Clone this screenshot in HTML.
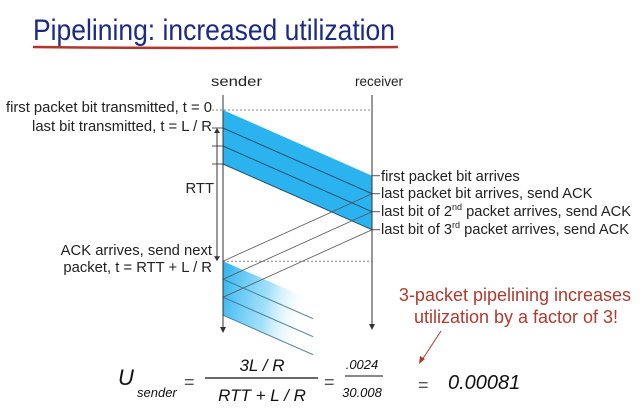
<!DOCTYPE html>
<html><head><meta charset="utf-8"><style>
html,body{margin:0;padding:0;background:#fff;}
svg{display:block;font-family:"Liberation Sans",sans-serif;}
</style></head><body>
<svg id="c" width="643" height="415" viewBox="0 0 643 415">
<defs>
<linearGradient id="fade" x1="0" x2="1" y1="0" y2="0.2">
<stop offset="0" stop-color="#2bb3f0"/><stop offset="0.55" stop-color="#7dd3f7" stop-opacity="0.7"/><stop offset="1" stop-color="#fff" stop-opacity="0"/>
</linearGradient>
</defs>
<text x="33" y="40" font-size="30" fill="#1b2a86" textLength="362" lengthAdjust="spacingAndGlyphs">Pipelining: increased utilization</text>
<path d="M33 47 Q200 49 398 47" stroke="#b8342a" stroke-width="2.5" fill="none"/>
<text x="211" y="86" font-size="14" textLength="51" lengthAdjust="spacingAndGlyphs" fill="#222">sender</text>
<text x="355" y="86" font-size="14" textLength="48" lengthAdjust="spacingAndGlyphs" fill="#222">receiver</text>
<g id="marks"></g>
<g font-size="14.8" fill="#222" text-anchor="end">
<text x="212" y="112">first packet bit transmitted, t = 0</text>
<text x="212" y="131">last bit transmitted, t = L / R</text>
<text x="214" y="193">RTT</text>
<text x="212" y="255">ACK arrives, send next</text>
<text x="212" y="272">packet, t = RTT + L / R</text>
</g>
<g font-size="14.7" fill="#222">
<text x="381" y="181">first packet bit arrives</text>
<text x="381" y="198">last packet bit arrives, send ACK</text>
<text x="381" y="216">last bit of 2<tspan font-size="9" dy="-6">nd</tspan><tspan dy="6"> packet arrives, send ACK</tspan></text>
<text x="381" y="234">last bit of 3<tspan font-size="9" dy="-6">rd</tspan><tspan dy="6"> packet arrives, send ACK</tspan></text>
</g>
<g font-size="18" fill="#b03a2e" text-anchor="middle">
<text x="515" y="301">3-packet pipelining increases</text>
<text x="516" y="323">utilization by a factor of 3!</text>
</g>
<line x1="441" y1="331" x2="422" y2="360" stroke="#b03a2e" stroke-width="1"/>
<path d="M419 364 L420 356 L425 359 Z" fill="#b03a2e"/>
<g fill="#111" font-style="italic">
<text x="118" y="385" font-size="22">U</text>
<text x="137" y="397" font-size="13">sender</text>
<text x="184" y="388" font-size="18" font-style="normal" fill="#555">=</text>
<text x="262" y="371" font-size="17" text-anchor="middle">3L / R</text>
<line x1="205" y1="378" x2="318" y2="378" stroke="#111" stroke-width="1.2"/>
<text x="262" y="401" font-size="17" text-anchor="middle">RTT + L / R</text>
<text x="324" y="388" font-size="18" font-style="normal" fill="#555">=</text>
<text x="362" y="369" font-size="13" text-anchor="middle">.0024</text>
<line x1="345" y1="376" x2="383" y2="376" stroke="#111" stroke-width="1"/>
<text x="362" y="397" font-size="13" text-anchor="middle">30.008</text>
<text x="418" y="391" font-size="18" font-style="normal" fill="#555">=</text>
<text x="448" y="389" font-size="20">0.00081</text>
</g>
</svg>
<script>
const packetStarts = [0, 1, 2];      // send times in units of L/R
const transmitTime = 1;               // L/R
const propDelay = 3.65;               // one-way in L/R units (vertical)
const nextRound = 8.4;                // RTT + L/R
const NS = "http://www.w3.org/2000/svg";
const sx = 223, rx = 372, y0 = 110, unit = 18;
const ty = t => y0 + t * unit;
const g = document.getElementById('marks');
function mk(tag, attrs){const e=document.createElementNS(NS,tag);for(const k in attrs)e.setAttribute(k,attrs[k]);g.appendChild(e);return e;}
const dy = propDelay*unit;
let e = mk('line',{x1:212,y1:ty(0),x2:rx,y2:ty(0),stroke:'#888','stroke-dasharray':'2,2'});


e = mk('line',{x1:sx,y1:ty(nextRound),x2:rx,y2:ty(nextRound),stroke:'#888','stroke-dasharray':'2,2'});


const last = packetStarts[packetStarts.length-1]+transmitTime;
e = mk('polygon',{points:`${sx},${ty(0)} ${rx},${ty(0)+dy} ${rx},${ty(last)+dy} ${sx},${ty(last)}`,fill:'#2bb3f0'});


e = mk('polygon',{points:`${sx},${ty(nextRound)} ${sx+90},${ty(nextRound)+dy*0.6} ${sx+90},${ty(nextRound+last)+dy*0.6} ${sx},${ty(nextRound+last)}`,fill:'url(#fade)'});


packetStarts.forEach((s,i)=>{
  const te = s+transmitTime;
  let l = mk('line',{x1:sx,y1:ty(te),x2:rx,y2:ty(te)+dy,stroke:'#24506a','stroke-width':1});
  
  
  l = mk('line',{x1:rx,y1:ty(te)+dy,x2:sx,y2:ty(nextRound+s),stroke:'#555','stroke-width':0.8});
  
  
  l = mk('line',{x1:sx,y1:ty(nextRound+te),x2:sx+90,y2:ty(nextRound+te)+dy*0.6,stroke:'#3a6a84','stroke-width':1,opacity:0.8});
  
  
  l = mk('line',{x1:212,y1:ty(te),x2:sx,y2:ty(te),stroke:'#555'});
  
  
  l = mk('line',{x1:rx,y1:ty(te)+dy,x2:rx+8,y2:ty(te)+dy,stroke:'#555'});
  
  
});
e = mk('line',{x1:rx,y1:ty(0)+dy,x2:rx+8,y2:ty(0)+dy,stroke:'#555'});


e = mk('line',{x1:sx,y1:95,x2:sx,y2:328,stroke:'#333'});


e = mk('path',{d:`M${sx-3} 327 L${sx+3} 327 L${sx} 333 Z`,fill:'#333'});


e = mk('line',{x1:rx,y1:95,x2:rx,y2:325,stroke:'#333'});


e = mk('path',{d:`M${rx-3} 324 L${rx+3} 324 L${rx} 330 Z`,fill:'#333'});


e = mk('line',{x1:217,y1:ty(1)+3,x2:217,y2:ty(nextRound)-3,stroke:'#333'});


mk('path',{d:`M214 ${ty(1)+5} L220 ${ty(1)+5} L217 ${ty(1)} Z`,fill:'#333'});
mk('path',{d:`M214 ${ty(nextRound)-5} L220 ${ty(nextRound)-5} L217 ${ty(nextRound)} Z`,fill:'#333'});
</script>
</body></html>
